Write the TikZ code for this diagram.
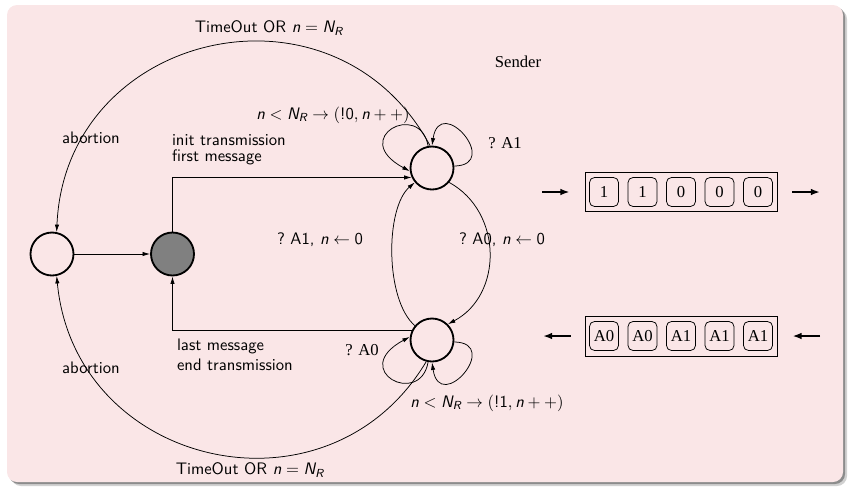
\documentclass[tikz,border=0pt]{standalone}
\usepackage{amsmath}
\usepackage{fontspec}
\newfontfamily\serifrm{Liberation Serif}
\usetikzlibrary{arrows.meta, calc}
\definecolor{slide}{RGB}{250,230,231}
\definecolor{shadow}{RGB}{140,140,140}
\definecolor{busy}{RGB}{128,128,128}
\newcommand{\sv}[1]{\textsf{\itshape #1}}
\newcommand{\NR}{\sv{N}_{\sv{R}}}
\tikzset{
    state/.style = {circle, draw, line width=1.1pt, minimum size=25.8pt, inner sep=0pt},
    trans/.style = {-{Latex[length=4.5pt,width=2.6pt]}, line width=0.45pt},
    txt-sf/.style = {font=\sffamily, inner sep=1pt},
    txt-rm/.style = {font=\serifrm, inner sep=1pt},
    cell/.style = {draw, rounded corners=3pt, line width=0.45pt, minimum width=17.4pt,
                   minimum height=17.4pt, inner sep=0pt, font=\serifrm},
    queue/.style = {draw, line width=0.55pt, minimum width=115.2pt, minimum height=23pt},
    qarrow/.style = {-{Latex[length=5.5pt,width=4pt]}, line width=1.1pt}
}

\begin{document}
\begin{tikzpicture}[x=0.6pt, y=-0.6pt]
\useasboundingbox (0,0) rectangle (849,489);
\fill[shadow!40, rounded corners=6pt] (11,9) rectangle (847,486);
\fill[shadow, rounded corners=6pt] (9,7) rectangle (845,484);
\fill[slide, rounded corners=6pt] (7,5) rectangle (843,482);

\node[state] (abort) at (52,254) {};
\node[state, fill=busy] (idle) at (172.5,254) {};
\node[state] (send) at (432,168) {};
\node[state] (wait) at (432,340) {};

\draw[trans] (abort) -- (idle);
\draw[trans] (idle.north) |- (send.205);
\draw[trans] (wait.155) -| (idle.south);

\draw[trans] (send.95) .. controls (334,-32) and (65,31) .. (abort.78);
\draw[trans] (wait.255) .. controls (328,526) and (75,468) .. (abort.282);

\draw[trans] (wait.140) .. controls (385,300) and (385,208) .. (send.220);
\draw[trans] (send.320) .. controls (503,212) and (503,295) .. (wait.45);

\draw[trans] (send.100) .. controls (420,100) and (348,138) .. (send.188);
\draw[trans] (send.5) .. controls (502,165) and (440,93) .. (send.90);
\draw[trans] (wait.260) .. controls (420,408) and (348,370) .. (wait.172);
\draw[trans] (wait.355) .. controls (502,343) and (440,415) .. (wait.270);

\node[txt-sf] (tout-top) at (269,28) {TimeOut OR $\sv{n} = \NR$};
\node[txt-sf] (abort-top) at (91,138) {abortion};
\node[txt-sf] (emit0) at (333,115) {$\sv{n} < \NR \rightarrow (\textsf{!0},\sv{n}++)$};
\node[txt-sf, anchor=west, align=left] (init) at (170,150) {init transmission\\[-2.5pt]first message};
\node[txt-rm] (sender) at (518,62) {Sender};
\node[txt-rm] (ack1) at (505,143) {? A1};
\node[txt-sf] (ack1-reset) at (320,240) {?~A1, $\sv{n} \leftarrow \textsf{0}$};
\node[txt-sf] (ack0-reset) at (502,240) {?~A0, $\sv{n} \leftarrow \textsf{0}$};
\node[txt-sf, anchor=west, align=left] (last) at (175,355) {last message\\end transmission};
\node[txt-rm] (ack0) at (362,350) {? A0};
\node[txt-sf] (emit1) at (487,403) {$\sv{n} < \NR \rightarrow (\textsf{!1},\sv{n}++)$};
\node[txt-sf] (abort-bot) at (91,368) {abortion};
\node[txt-sf] (tout-bot) at (250,470) {TimeOut OR $\sv{n} = \NR$};

\node[queue] (outbox) at (681,192) {};
\foreach \v [count=\i] in {1,1,0,0,0}
    \node[cell] (out\i) at ({565.5+38.5*\i},192) {\v};
\node[queue, minimum height=24pt] (inbox) at (681,336) {};
\foreach \v [count=\i] in {A0,A0,A1,A1,A1}
    \node[cell] (in\i) at ({565.5+38.5*\i},336) {\v};

\coordinate (outsrc) at (542,192);
\coordinate (outdst) at (820,192);
\coordinate (insrc) at (820,336);
\coordinate (indst) at (543,336);
\draw[qarrow, shorten >=9pt] (outsrc) -- (outbox.west);
\draw[qarrow, shorten <=9pt] (outbox.east) -- (outdst);
\draw[qarrow, shorten >=9pt] (insrc) -- (inbox.east);
\draw[qarrow, shorten <=8.4pt] (inbox.west) -- (indst);
\end{tikzpicture}
\end{document}
